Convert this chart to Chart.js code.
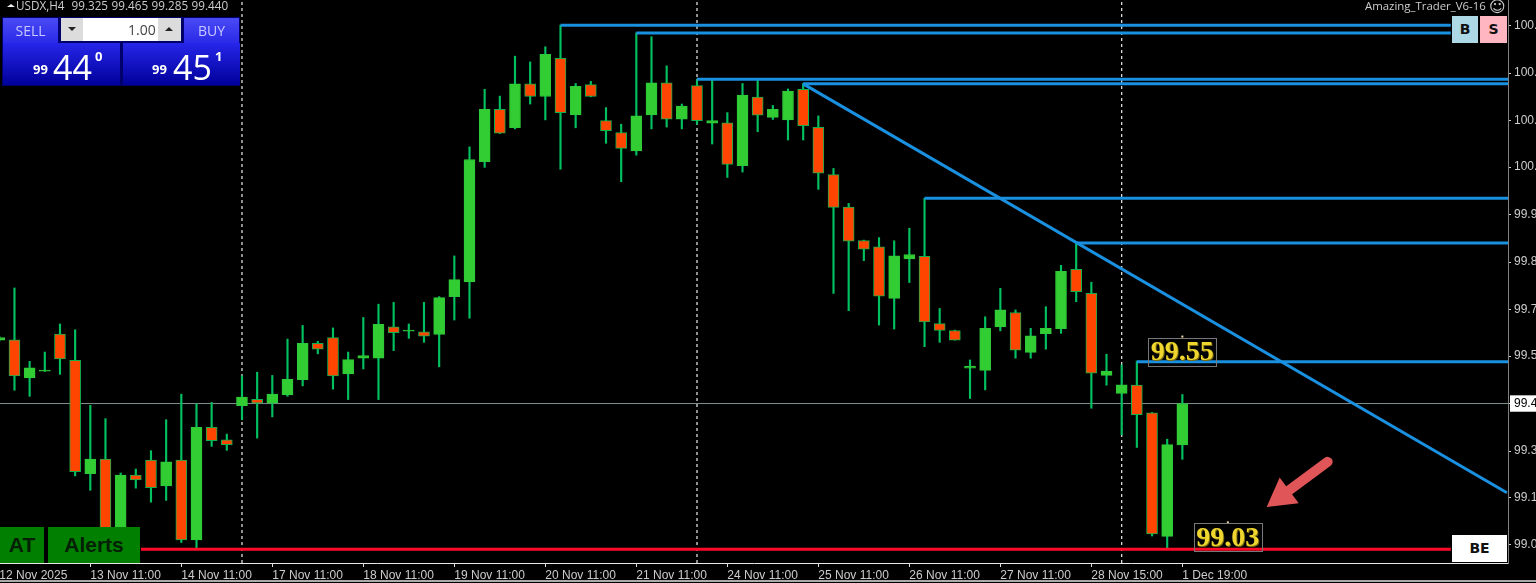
<!DOCTYPE html>
<html>
<head>
<meta charset="utf-8">
<title>USDX,H4</title>
<script src="https://cdn.jsdelivr.net/npm/chart.js@4"></script>
<style>
  html, body { margin: 0; padding: 0; background: #000; overflow: hidden; }
  #wrap { position: relative; width: 1536px; height: 583px; overflow: hidden; }
  canvas { position: absolute; left: 0; top: 0; }
  .box { position: absolute; box-sizing: border-box; white-space: nowrap; }
  .ui { font-family: "Open Sans", sans-serif; color: #ddd; }
  .btn { background: linear-gradient(#4a4af5, #2a2ae8); color: #c9c9ff; font-size: 14px; text-align: center; line-height: 25px; }
  .price { background: linear-gradient(#2626ea, #00009a); color: #fff; }
  .price span { position: absolute; }
  .small { font-size: 13px; font-weight: 700; bottom: 7px; }
  .big { font-size: 34px; line-height: 34px; top: 7px; }
  .sup { font-size: 13px; font-weight: 700; top: 4px; }
  .green { background: #007f00; color: #062006; font: bold 21px "Liberation Sans", sans-serif; text-align: center; line-height: 36px; }
  .side { color: #111; font: bold 14px "DejaVu Sans", sans-serif; text-align: center; }
</style>
</head>
<body>
<div id="wrap">
  <canvas id="myChart" width="1536" height="583"></canvas>

  <div class="box" style="left:7px;top:4px;width:0;height:0;border-left:4px solid transparent;border-right:4px solid transparent;border-bottom:3px solid #eee"></div>
  <div class="box ui" style="left:16px;top:-3px;font-size:11.7px;color:#ccc;word-spacing:0.5px">USDX,H4&nbsp;&nbsp;99.325 99.465 99.285 99.440</div>
  <div class="box ui" style="left:1365px;top:-2px;font-size:11.4px;color:#ccc">Amazing_Trader_V6-16</div>
  <div class="box" style="left:1489px;top:-3px;font:16px 'DejaVu Sans',sans-serif;color:#ccc">&#9786;</div>

  <div class="box" style="left:2px;top:17px;width:238px;height:69px;background:#00006a"></div>
  <div class="box ui btn" style="left:3px;top:18px;width:55px;height:25px">SELL</div>
  <div class="box ui btn" style="left:184px;top:18px;width:55px;height:25px">BUY</div>
  <div class="box" style="left:61px;top:18px;width:120px;height:23px;background:#fff"></div>
  <div class="box" style="left:61px;top:18px;width:22px;height:23px;background:#dcdcdc"></div>
  <div class="box" style="left:158px;top:18px;width:23px;height:23px;background:#dcdcdc"></div>
  <div class="box" style="left:68px;top:27px;width:0;height:0;border-left:4px solid transparent;border-right:4px solid transparent;border-top:4px solid #222"></div>
  <div class="box" style="left:165px;top:27px;width:0;height:0;border-left:4px solid transparent;border-right:4px solid transparent;border-bottom:4px solid #222"></div>
  <div class="box ui" style="left:128px;top:20px;font-size:14px;color:#444">1.00</div>
  <div class="box ui price" style="left:3px;top:43px;width:117px;height:42px">
    <span class="small" style="left:30px">99</span><span class="big" style="left:50px">44</span><span class="sup" style="left:92px">0</span>
  </div>
  <div class="box ui price" style="left:123px;top:43px;width:117px;height:42px">
    <span class="small" style="left:29px">99</span><span class="big" style="left:50px">45</span><span class="sup" style="left:92px">1</span>
  </div>

  <div class="box green" style="left:0;top:527px;width:44px;height:36px">AT</div>
  <div class="box green" style="left:48px;top:527px;width:92px;height:36px">Alerts</div>

  <div class="box side" style="left:1452px;top:16px;width:26px;height:27px;line-height:27px;background:#add8e6">B</div>
  <div class="box side" style="left:1480px;top:16px;width:27px;height:27px;line-height:27px;background:#ffb6c1">S</div>
  <div class="box side" style="left:1452px;top:535px;width:55px;height:27px;line-height:27px;background:#fff">BE</div>

  <div class="box" style="left:0;top:580px;width:1536px;height:2px;background:#aaa"></div>
</div>

<script>
// USDX H4 candles
const open = [99.616,99.617,99.511,99.530,99.633,99.560,99.245,99.286,99.083,99.241,99.283,99.211,99.283,99.061,99.374,99.339,99.434,99.452,99.441,99.464,99.506,99.607,99.623,99.522,99.566,99.566,99.653,99.641,99.639,99.632,99.737,99.778,100.112,100.257,100.206,100.328,100.293,100.399,100.242,100.326,100.226,100.193,100.142,100.242,100.331,100.230,100.323,100.219,100.220,100.101,100.291,100.235,100.228,100.313,100.207,100.076,99.986,99.893,99.875,99.732,99.842,99.849,99.662,99.643,99.538,99.532,99.653,99.693,99.582,99.634,99.648,99.813,99.746,99.518,99.468,99.491,99.414,99.071,99.325]
const high = [99.626,99.761,99.557,99.583,99.661,99.645,99.435,99.398,99.247,99.258,99.309,99.395,99.466,99.439,99.443,99.355,99.517,99.527,99.518,99.619,99.657,99.613,99.650,99.583,99.679,99.716,99.721,99.661,99.721,99.737,99.850,100.153,100.313,100.294,100.405,100.389,100.431,100.491,100.329,100.335,100.262,100.216,100.470,100.459,100.378,100.272,100.341,100.339,100.248,100.329,100.339,100.268,100.314,100.329,100.239,100.093,99.996,99.894,99.901,99.892,99.927,100.010,99.704,99.644,99.561,99.681,99.760,99.700,99.649,99.709,99.824,99.887,99.777,99.577,99.547,99.558,99.415,99.341,99.465]
const low = [99.614,99.477,99.460,99.529,99.521,99.239,99.199,99.064,99.072,99.205,99.166,99.171,99.054,99.039,99.321,99.310,99.395,99.344,99.403,99.460,99.489,99.578,99.480,99.451,99.536,99.451,99.587,99.621,99.610,99.542,99.672,99.677,100.096,100.190,100.203,100.272,100.228,100.091,100.206,100.292,100.163,100.056,100.130,100.203,100.208,100.203,100.216,100.161,100.068,100.083,100.195,100.229,100.172,100.172,100.035,99.746,99.698,99.837,99.658,99.647,99.776,99.598,99.610,99.616,99.454,99.478,99.642,99.566,99.566,99.591,99.635,99.723,99.427,99.491,99.353,99.318,99.072,99.038,99.285]
const close = [99.623,99.517,99.539,99.533,99.564,99.251,99.286,99.078,99.241,99.228,99.206,99.278,99.061,99.374,99.337,99.326,99.458,99.441,99.466,99.507,99.607,99.591,99.517,99.562,99.573,99.660,99.637,99.644,99.627,99.734,99.784,100.118,100.257,100.191,100.328,100.293,100.410,100.248,100.321,100.293,100.198,100.149,100.239,100.331,100.230,100.266,100.226,100.226,100.104,100.297,100.241,100.257,100.308,100.212,100.080,99.985,99.891,99.869,99.738,99.850,99.854,99.667,99.643,99.616,99.544,99.649,99.700,99.588,99.628,99.649,99.807,99.751,99.524,99.530,99.492,99.409,99.078,99.326,99.440]

const timeLabels = ['12 Nov 2025','13 Nov 11:00','14 Nov 11:00','17 Nov 11:00','18 Nov 11:00','19 Nov 11:00','20 Nov 11:00','21 Nov 11:00','24 Nov 11:00','25 Nov 11:00','26 Nov 11:00','27 Nov 11:00','28 Nov 15:00','1 Dec 19:00']
const timeTicks = [0,6,12,18,24,30,36,42,48,54,60,66,72,78]
const priceTicks = [99.048,99.178,99.308,99.440,99.572,99.700,99.833,99.964,100.097,100.226,100.358,100.490]

// horizontal levels: start candle, price
const levelStart = [37,42,46,53,61,71,75]
const levelPrice = [100.491,100.469,100.341,100.328,100.010,99.886,99.556]
const levelEnd = [95.7,95.7,99.47,99.47,99.47,99.47,99.47]
const trendX = [53,99.4]
const trendY = [100.328,99.192]
const supportPrice = 99.035
const lastPrice = 99.440
const separators = [16,46,74]
const noteText = ['99.55','99.03']
const noteX = [78,81]
const notePrice = [99.626,99.110]

const xMin = 0.046, xMax = 99.47
const yMin = 98.997, yMax = 100.561

let indexes = open.map((v, i) => i)

let bull = (i) => close[i] >= open[i]

let noPadding = (scale) => {
  scale.paddingLeft = 0
  scale.paddingRight = 0
  scale.paddingTop = 0
  scale.paddingBottom = 0
}

let lineSet = (points, color, width, order, dash) => ({
  type: 'line',
  data: points,
  borderColor: color,
  borderWidth: width,
  borderDash: dash || [],
  pointRadius: 0,
  tension: 0,
  order: order
})

// arrow and the two price notes
const extras = {
  id: 'extras',
  afterDatasetsDraw(chart) {
    const c = chart.ctx
    const x = chart.scales.x, y = chart.scales.y

    let tailX = x.getPixelForValue(87.74), tailY = y.getPixelForValue(99.283)
    let tipX = x.getPixelForValue(83.56), tipY = y.getPixelForValue(99.1525)
    let len = Math.hypot(tailX - tipX, tailY - tipY)
    let ux = (tailX - tipX) / len, uy = (tailY - tipY) / len
    let baseX = tipX + ux * 28, baseY = tipY + uy * 28
    c.save()
    c.strokeStyle = '#e05558'
    c.fillStyle = '#e05558'
    c.lineWidth = 10
    c.lineCap = 'round'
    c.beginPath()
    c.moveTo(tailX - ux * 3, tailY - uy * 3)
    c.lineTo(baseX, baseY)
    c.stroke()
    c.beginPath()
    c.moveTo(tipX, tipY)
    c.lineTo(baseX - uy * 16, baseY + ux * 16)
    c.lineTo(baseX + uy * 16, baseY - ux * 16)
    c.closePath()
    c.fill()

    c.textAlign = 'center'
    c.textBaseline = 'middle'
    c.font = 'bold 28px "Liberation Serif", serif'
    noteText.forEach((t, i) => {
      let px = x.getPixelForValue(noteX[i]), py = y.getPixelForValue(notePrice[i])
      c.fillStyle = '#e8d8a8'
      c.fillRect(px - 1, py - 1, 2, 2)
      c.strokeStyle = '#777'
      c.lineWidth = 1
      c.strokeRect(Math.round(px - 34) + 0.5, Math.round(py + 1) + 0.5, 68, 28)
      c.fillStyle = '#7a6a10'
      c.fillText(t, px + 1, py + 17)
      c.fillStyle = '#eed62e'
      c.fillText(t, px, py + 16)
    })
    c.restore()
  }
}

let datasets = []

// period separators and last price sit under the candles
separators.forEach(s => {
  datasets.push(lineSet([{ x: s, y: yMin }, { x: s, y: yMax }], '#eeeeee', 1.2, 6, [3, 3]))
})
datasets.push(lineSet([{ x: xMin, y: lastPrice }, { x: xMax, y: lastPrice }], '#7f8f8f', 1, 5))

datasets.push({
  data: indexes.map(i => ({ x: i, y: [low[i], high[i]] })),
  backgroundColor: '#00c060',
  borderWidth: 0,
  barThickness: 1.5,
  grouped: false,
  order: 4
})
datasets.push({
  data: indexes.map(i => ({ x: i, y: [open[i], close[i]] })),
  backgroundColor: indexes.map(i => bull(i) ? '#32cd32' : '#ff4500'),
  borderColor: indexes.map(i => bull(i) ? '#2ec83a' : '#12b04c'),
  borderWidth: 1,
  borderSkipped: false,
  barThickness: 11,
  grouped: false,
  order: 3
})

levelPrice.forEach((p, i) => {
  datasets.push(lineSet([{ x: levelStart[i], y: p }, { x: levelEnd[i], y: p }], '#1a90e0', 3, 2))
})
datasets.push(lineSet(trendX.map((v, i) => ({ x: v, y: trendY[i] })), '#1a90e0', 3, 2))
datasets.push(lineSet([{ x: 9.34, y: supportPrice }, { x: 95.7, y: supportPrice }], '#ff0a28', 3, 1))

const config = {
  type: 'bar',
  data: { datasets: datasets },
  options: {
    responsive: false,
    animation: false,
    layout: { padding: 0 },
    plugins: { legend: { display: false }, tooltip: { enabled: false } },
    scales: {
      x: {
        type: 'linear',
        offset: false,
        min: xMin,
        max: xMax,
        afterBuildTicks: (scale) => { scale.ticks = timeTicks.map(v => ({ value: v })) },
        afterFit: (scale) => { scale.height = 20; noPadding(scale) },
        grid: { offset: false, drawOnChartArea: false, tickLength: 4, tickColor: '#dddddd' },
        border: { color: '#e8e8e8' },
        ticks: {
          autoSkip: false,
          maxRotation: 0,
          align: 'start',
          padding: 1,
          color: '#cccccc',
          font: { family: '"Liberation Sans", sans-serif', size: 12 },
          callback: (v) => timeLabels[timeTicks.indexOf(v)]
        }
      },
      y: {
        type: 'linear',
        position: 'right',
        min: yMin,
        max: yMax,
        afterBuildTicks: (scale) => { scale.ticks = priceTicks.map(v => ({ value: v })) },
        afterFit: (scale) => { scale.width = 28; noPadding(scale) },
        grid: { drawOnChartArea: false, tickLength: 3, tickColor: '#cccccc' },
        border: { color: '#808080' },
        ticks: {
          autoSkip: false,
          padding: 3,
          color: (ctx) => ctx.tick.value === lastPrice ? '#000000' : '#cccccc',
          font: { family: '"Liberation Sans", sans-serif', size: 12 },
          showLabelBackdrop: (ctx) => ctx.tick.value === lastPrice,
          backdropColor: '#ffffff',
          backdropPadding: { left: 4, right: 2, top: 1, bottom: 1 },
          callback: (v) => v.toFixed(3)
        }
      }
    }
  },
  plugins: [extras]
}

const chart = new Chart(document.getElementById('myChart'), config)
</script>
</body>
</html>
